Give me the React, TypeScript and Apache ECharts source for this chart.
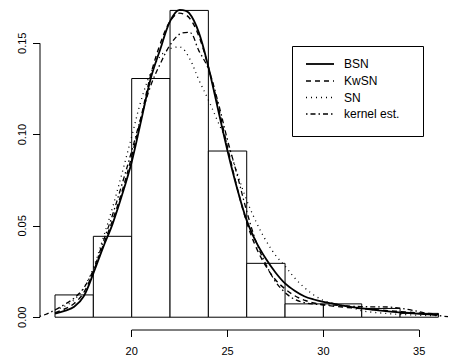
import React, { useEffect, useRef } from "react";
import * as echarts from "echarts";

// Histogram (bin edges of width 2, density heights)
const BIN_EDGES = [16, 18, 20, 22, 24, 26, 28, 30, 32, 34, 36];
const DENSITY = [0.0122, 0.0443, 0.1307, 0.168, 0.091, 0.0295, 0.0073, 0.0073, 0.0048, 0.0021];

// Fitted density curves (evaluated on a common grid)
const XS = [16, 16.5, 17, 17.5, 18, 18.5, 19, 19.5, 20, 20.5, 21, 21.5, 22, 22.5, 23, 23.5, 24, 24.5, 25, 25.5, 26, 26.5, 27, 27.5, 28, 28.5, 29, 29.5, 30, 30.5, 31, 31.5, 32, 32.5, 33, 33.5, 34, 34.5, 35, 35.5, 36];
const BSN = [0.002, 0.0035, 0.0057, 0.0115, 0.024, 0.038, 0.051, 0.067, 0.085, 0.108, 0.131, 0.147, 0.162, 0.1683, 0.1665, 0.156, 0.137, 0.114, 0.091, 0.0705, 0.053, 0.041, 0.032, 0.0245, 0.0185, 0.0145, 0.0115, 0.0097, 0.0084, 0.0074, 0.0064, 0.0055, 0.0048, 0.0042, 0.0036, 0.0031, 0.0027, 0.0023, 0.0019, 0.0016, 0.0014];
const KWSN = [0.0025, 0.0045, 0.0075, 0.0135, 0.025, 0.039, 0.053, 0.069, 0.088, 0.11, 0.133, 0.15, 0.162, 0.1665, 0.164, 0.154, 0.137, 0.116, 0.093, 0.071, 0.052, 0.038, 0.028, 0.0205, 0.0155, 0.0118, 0.0094, 0.0078, 0.0068, 0.0061, 0.0056, 0.0051, 0.0047, 0.0043, 0.0039, 0.0035, 0.0031, 0.0027, 0.0023, 0.002, 0.0017];
const SN = [0.004, 0.006, 0.0095, 0.016, 0.027, 0.043, 0.06, 0.079, 0.099, 0.119, 0.134, 0.143, 0.147, 0.148, 0.142, 0.13, 0.119, 0.107, 0.095, 0.079, 0.064, 0.052, 0.042, 0.034, 0.028, 0.0215, 0.0163, 0.0122, 0.0092, 0.0076, 0.0063, 0.0052, 0.0035, 0.0028, 0.0023, 0.0019, 0.0016, 0.0013, 0.0011, 0.0009, 0.0008];

// Kernel density estimate (wider support)
const KX = [15.2, 15.5, 16, 16.5, 17, 17.5, 18, 18.5, 19, 19.5, 20, 20.5, 21, 21.5, 22, 22.5, 23, 23.5, 24, 24.5, 25, 25.5, 26, 26.5, 27, 27.5, 28, 28.5, 29, 29.5, 30, 30.5, 31, 31.5, 32, 32.5, 33, 33.5, 34, 34.5, 35, 35.5, 36, 36.5];
const KERNEL = [0.0005, 0.0015, 0.004, 0.007, 0.0105, 0.016, 0.026, 0.041, 0.056, 0.073, 0.091, 0.11, 0.127, 0.139, 0.149, 0.155, 0.156, 0.146, 0.136, 0.118, 0.097, 0.078, 0.058, 0.041, 0.029, 0.0195, 0.0135, 0.0098, 0.008, 0.0072, 0.0068, 0.0066, 0.0063, 0.006, 0.0058, 0.0057, 0.0057, 0.0055, 0.005, 0.0041, 0.003, 0.0018, 0.0009, 0.0003];

const X_TICKS = [20, 25, 30, 35];
const Y_TICKS = [0, 0.05, 0.1, 0.15];
const LEGEND = ["BSN", "KwSN", "SN", "kernel est."];

const X_MIN = 15.217;
const X_MAX = 36.552;
const Y_MIN = -0.007;
const Y_MAX = 0.1737;

const FONT = "'Liberation Sans', Arial, Helvetica, sans-serif";

export default function App() {
  const ref = useRef<HTMLDivElement>(null);
  useEffect(() => {
    if (!ref.current) return;
    const chart = echarts.init(ref.current, undefined, { renderer: "svg" });
    const bars = DENSITY.map((d, i) => [BIN_EDGES[i], BIN_EDGES[i + 1], d]);
    const pair = (xs: number[], ys: number[]) => xs.map((x, i) => [x, ys[i]]);
    const styles: any[] = [
      { width: 1.8, type: "solid" },
      { width: 1.4, type: [5, 4] },
      { width: 1.3, type: [1, 4] },
      { width: 1.3, type: [1.5, 3, 5, 3] },
    ];
    const legendYs = [64, 81, 97.5, 114];
    const graphic: any[] = [
      {
        type: "rect",
        shape: { x: 292.5, y: 46.5, width: 131, height: 90 },
        style: { fill: "#fff", stroke: "#000", lineWidth: 1 },
        z: 10,
      },
    ];
    LEGEND.forEach((name, i) => {
      graphic.push({
        type: "line",
        shape: { x1: 306, y1: legendYs[i], x2: 334, y2: legendYs[i] },
        style: {
          stroke: "#000",
          lineWidth: styles[i].width,
          lineDash: styles[i].type === "solid" ? null : styles[i].type,
        },
        z: 11,
      });
      graphic.push({
        type: "text",
        x: 344,
        y: legendYs[i],
        style: {
          text: name,
          fill: "#000",
          fontSize: 12,
          fontFamily: FONT,
          verticalAlign: "middle",
          align: "left",
        },
        z: 11,
      });
    });

    const lineSeries = (name: string, data: number[][], st: any) => ({
      name,
      type: "line",
      data,
      showSymbol: false,
      symbol: "none",
      smooth: 0.35,
      clip: false,
      lineStyle: { color: "#000", width: st.width, type: st.type },
      z: 5,
    });

    chart.setOption({
      animation: false,
      backgroundColor: "#fff",
      grid: { left: 40, right: 0, top: 0, bottom: 28 },
      xAxis: {
        type: "value",
        min: X_MIN,
        max: X_MAX,
        splitLine: { show: false },
        axisLine: { show: false, onZero: false },
        axisTick: { show: true, length: 7, customValues: X_TICKS, lineStyle: { color: "#000" } },
        axisLabel: {
          customValues: X_TICKS,
          margin: 15,
          color: "#000",
          fontSize: 11,
          fontFamily: FONT,
          formatter: (v: number) => String(v),
        },
      },
      yAxis: {
        type: "value",
        min: Y_MIN,
        max: Y_MAX,
        splitLine: { show: false },
        axisLine: { show: false, onZero: false },
        axisTick: { show: true, length: 7, customValues: Y_TICKS, lineStyle: { color: "#000" } },
        axisLabel: {
          customValues: Y_TICKS,
          rotate: 90,
          margin: 13,
          color: "#000",
          fontSize: 11,
          fontFamily: FONT,
          formatter: (v: number) => v.toFixed(2),
        },
      },
      graphic,
      series: [
        {
          type: "custom",
          data: bars,
          encode: { x: [0, 1], y: 2 },
          z: 2,
          renderItem: (params: any, api: any) => {
            const p0 = api.coord([api.value(0), 0]);
            const p1 = api.coord([api.value(1), api.value(2)]);
            return {
              type: "rect",
              shape: { x: p0[0], y: p1[1], width: p1[0] - p0[0], height: p0[1] - p1[1] },
              style: { fill: "#fff", stroke: "#000", lineWidth: 1 },
            };
          },
        },
        lineSeries("BSN", pair(XS, BSN), styles[0]),
        lineSeries("KwSN", pair(XS, KWSN), styles[1]),
        lineSeries("SN", pair(XS, SN), styles[2]),
        lineSeries("kernel est.", pair(KX, KERNEL), styles[3]),
        {
          type: "line",
          data: [[X_MIN, Y_TICKS[0]], [X_MIN, Y_TICKS[Y_TICKS.length - 1]]],
          showSymbol: false,
          symbol: "none",
          clip: false,
          lineStyle: { color: "#000", width: 1 },
          z: 3,
        },
        {
          type: "line",
          data: [[X_TICKS[0], Y_MIN], [X_TICKS[X_TICKS.length - 1], Y_MIN]],
          showSymbol: false,
          symbol: "none",
          clip: false,
          lineStyle: { color: "#000", width: 1 },
          z: 3,
        },
      ],
    });
    return () => chart.dispose();
  }, []);
  return (
    <div
      ref={ref}
      style={{ position: "fixed", left: 0, top: 0, width: 449, height: 358, background: "#fff" }}
    />
  );
}
